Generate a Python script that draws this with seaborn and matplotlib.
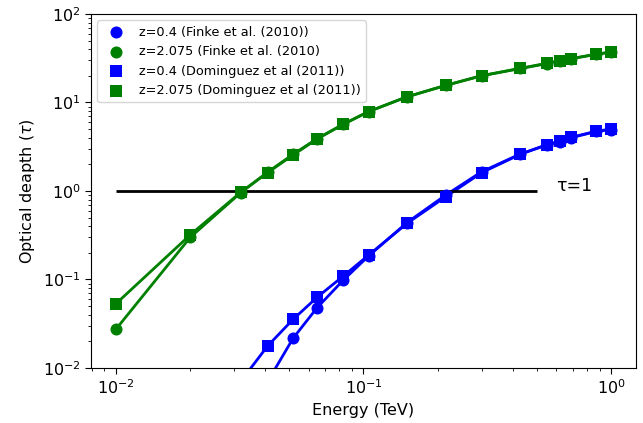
import matplotlib
matplotlib.use("Agg")
import matplotlib.pyplot as plt
import seaborn as sns
import numpy as np

# energies (TeV)
energy = [0.01, 0.02, 0.032, 0.041, 0.052, 0.065, 0.083, 0.105, 0.15,
          0.215, 0.30, 0.43, 0.55, 0.62, 0.69, 0.87, 1.0]

# optical depth, Finke et al. (2010)
tau_finke_z04 = [1e-5, 3e-4, 0.0025, 0.0070, 0.0217, 0.048, 0.0987, 0.185, 0.44,
                 0.90, 1.65, 2.62, 3.3, 3.6, 4.0, 4.7, 4.95]
tau_finke_z2 = [0.0273, 0.30, 0.96, 1.63, 2.60, 3.90, 5.7, 7.9, 11.6,
                15.6, 20.0, 24.2, 27.5, 29.5, 31.2, 35.0, 37.0]

# optical depth, Dominguez et al (2011)
tau_dom_z04 = [2e-5, 8e-4, 0.0071, 0.0177, 0.0355, 0.063, 0.1096, 0.189, 0.431,
               0.862, 1.61, 2.60, 3.34, 3.67, 4.04, 4.73, 5.01]
tau_dom_z2 = [0.053, 0.32, 0.97, 1.61, 2.55, 3.87, 5.67, 7.9, 11.6,
              15.6, 20.1, 24.3, 27.7, 29.7, 31.3, 35.1, 37.2]

series = [
    (tau_finke_z04, "blue", "o", "z=0.4 (Finke et al. (2010))"),
    (tau_finke_z2, "green", "o", "z=2.075 (Finke et al. (2010)"),
    (tau_dom_z04, "blue", "s", "z=0.4 (Dominguez et al (2011))"),
    (tau_dom_z2, "green", "s", "z=2.075 (Dominguez et al (2011))"),
]

plt.rcParams["font.size"] = 11.5
plt.rcParams["xtick.major.size"] = 4
plt.rcParams["ytick.major.size"] = 4

fig, ax = plt.subplots(figsize=(6.43, 4.23), dpi=100)
fig.subplots_adjust(left=0.1415, right=0.989, bottom=0.130, top=0.967)

for tau, col, mk, lab in series:
    sns.lineplot(x=energy, y=tau, color=col, linewidth=2.0, ax=ax, legend=False)
    sns.scatterplot(x=energy, y=tau, color=col, marker=mk, s=75, linewidth=0,
                    label=lab, ax=ax, zorder=3)

# tau = 1 reference line
ax.hlines(1.0, 0.01, 0.5, color="black", linewidth=2.0)
ax.text(0.6, 1.0, "τ=1", fontsize=12.5, va="baseline")

ax.set_xscale("log")
ax.set_yscale("log")
ax.set_ylim(1e-2, 1e2)
ax.set_xlabel("Energy (TeV)")
ax.set_ylabel(r"Optical deapth ($\tau$)")
ax.legend(loc="upper left", fontsize=9.3)

plt.savefig("out.png", dpi=100)
